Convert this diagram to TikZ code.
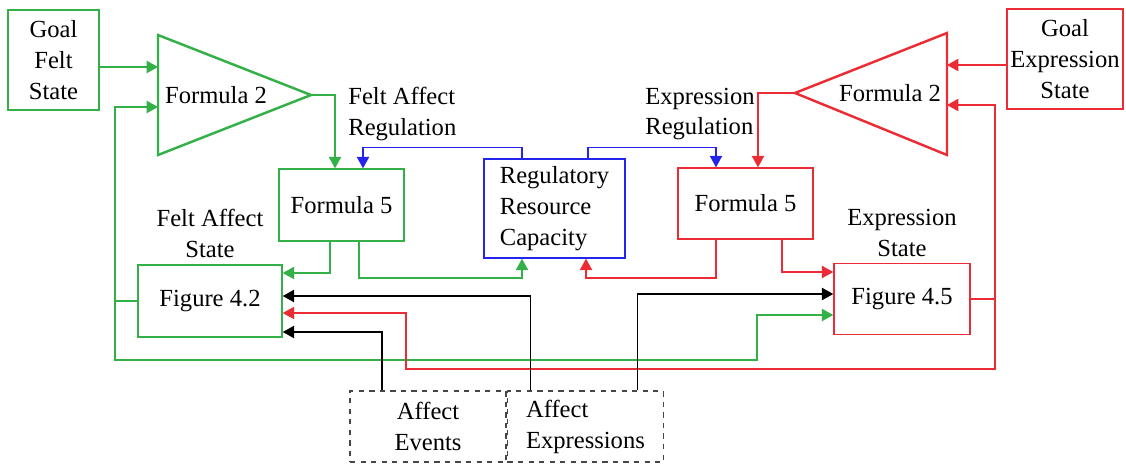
\documentclass[tikz,border=0pt]{standalone}
\usepackage{fontspec}
\setmainfont{Liberation Serif}
\usepackage{tikz}
\usetikzlibrary{arrows.meta, positioning}
\definecolor{feltgreen}{RGB}{52,176,72}
\definecolor{exprred}{RGB}{236,44,52}
\definecolor{regblue}{RGB}{36,36,236}
\definecolor{evgray}{RGB}{70,70,70}
\tikzstyle{feltbox} = [rectangle, draw=feltgreen, line width=0.85pt, align=center, inner sep=0pt]
\tikzstyle{exprbox} = [rectangle, draw=exprred, line width=0.85pt, align=center, inner sep=0pt]
\tikzstyle{regbox} = [rectangle, draw=regblue, line width=0.85pt, align=left, inner sep=0pt]
\tikzstyle{eventbox} = [rectangle, draw=evgray, dashed, line width=0.85pt, align=left, inner sep=0pt, minimum width=3.12cm, minimum height=1.42cm]
\tikzstyle{amp} = [line width=1.4pt, line join=miter]
\tikzstyle{tag} = [align=center, inner sep=0pt]
\tikzstyle{arrow} = [line width=0.85pt, -{Triangle[length=6.5pt,width=7pt]}]

\begin{document}
\begin{tikzpicture}[x=0.02cm, y=-0.02cm, font=\fontsize{14}{17.6}\selectfont]
	\useasboundingbox (0,0) rectangle (1126,464);

	% Draw the nodes
	\node (goalFelt) [feltbox, minimum width=1.82cm, minimum height=2cm] at (53.5,60) {Goal\\ Felt\\ State};
	\node (goalExpr) [exprbox, minimum width=2.32cm, minimum height=2cm] at (1065,59) {Goal\\ Expression\\ State};
	\node (f5L) [feltbox, minimum width=2.5cm, minimum height=1.44cm] at (341.5,205) {Formula 5};
	\node (f5R) [exprbox, minimum width=2.7cm, minimum height=1.42cm] at (745.5,203.5) {Formula 5};
	\node (rrc) [regbox, minimum width=2.82cm, minimum height=1.98cm] at (554.5,208.5) {Regulatory\\ Resource\\ Capacity};
	\node (fig42) [feltbox, minimum width=2.88cm, minimum height=1.44cm] at (210,301) {Figure 4.2};
	\node (fig45) [exprbox, minimum width=2.72cm, minimum height=1.42cm] at (902,299) {Figure 4.5};
	\node (evt) [eventbox, align=center] at (428,426.5) {Affect\\ Events};
	\node (expr) [eventbox, right=0pt of evt] {Affect\\ Expressions};
	\node (feltState) [tag, above=0.12cm of fig42] {Felt Affect\\ State};
	\node (exprState) [tag, above=0.12cm of fig45] {Expression\\ State};
	\node (feltReg) [tag, align=left, anchor=west] at (348,114) {Felt Affect\\ Regulation};
	\node (exprReg) [tag, align=left, anchor=west] at (645,114) {Expression\\ Regulation};

	% Draw the triangles
	\draw [amp, draw=feltgreen] (158,35) -- (311,95) coordinate (feltTip) -- (158,155) -- cycle;
	\node (feltF2) [tag] at (216,95) {Formula 2};
	\draw [amp, draw=exprred] (947,33) -- (795,93) coordinate (exprTip) -- (947,155) -- cycle;
	\node (exprF2) [tag] at (890,93) {Formula 2};

	\coordinate (feltInA) at (158,67);
	\coordinate (feltInB) at (158,107);
	\coordinate (feltBus) at (115,360);
	\coordinate (feltTurn) at (757,315);
	\coordinate (feltCap) at (522,278);
	\coordinate (exprInA) at (947,65);
	\coordinate (exprInB) at (947,105);
	\coordinate (exprBus) at (995,369);
	\coordinate (exprTurn) at (406,313);
	\coordinate (exprCap) at (586,278);

	% Draw the arrows
	\draw [arrow, feltgreen] (goalFelt.east |- feltInA) -- (feltInA);
	\draw [arrow, feltgreen] (fig42.west) -| (feltBus |- feltInB) -- (feltInB);
	\draw [arrow, feltgreen] (fig42.west -| feltBus) -- (feltBus) -| (feltTurn) -- (fig45.west |- feltTurn);
	\draw [arrow, feltgreen] (feltTip) -| ([xshift=-0.13cm]f5L.north);
	\draw [arrow, feltgreen] ([xshift=-0.23cm]f5L.south) |- ([yshift=0.56cm]fig42.east);
	\draw [arrow, feltgreen] ([xshift=0.35cm]f5L.south) |- (feltCap) -- (rrc.south -| feltCap);

	\draw [arrow, exprred] (goalExpr.west |- exprInA) -- (exprInA);
	\draw [arrow, exprred] (fig45.east) -| (exprBus |- exprInB) -- (exprInB);
	\draw [arrow, exprred] (fig45.east -| exprBus) -- (exprBus) -| (exprTurn) -- (fig42.east |- exprTurn);
	\draw [arrow, exprred] (exprTip) -| ([xshift=0.25cm]f5R.north);
	\draw [arrow, exprred] ([xshift=0.73cm]f5R.south) |- ([yshift=0.54cm]fig45.west);
	\draw [arrow, exprred] ([xshift=-0.59cm]f5R.south) |- (exprCap) -- (rrc.south -| exprCap);

	\draw [arrow, regblue] ([xshift=-0.65cm]rrc.north) |- ([xshift=0.43cm, yshift=0.42cm]f5L.north) -- ([xshift=0.43cm]f5L.north);
	\draw [arrow, regblue] ([xshift=0.67cm]rrc.north) |- ([xshift=-0.59cm, yshift=0.4cm]f5R.north) -- ([xshift=-0.59cm]f5R.north);

	\draw [arrow, black] ([xshift=-0.92cm]evt.north) |- ([yshift=-0.62cm]fig42.east);
	\draw [arrow, black] ([xshift=-1.1cm]expr.north) |- ([yshift=0.1cm]fig42.east);
	\draw [arrow, black] ([xshift=1.04cm]expr.north) |- ([yshift=0.1cm]fig45.west);

\end{tikzpicture}
\end{document}
